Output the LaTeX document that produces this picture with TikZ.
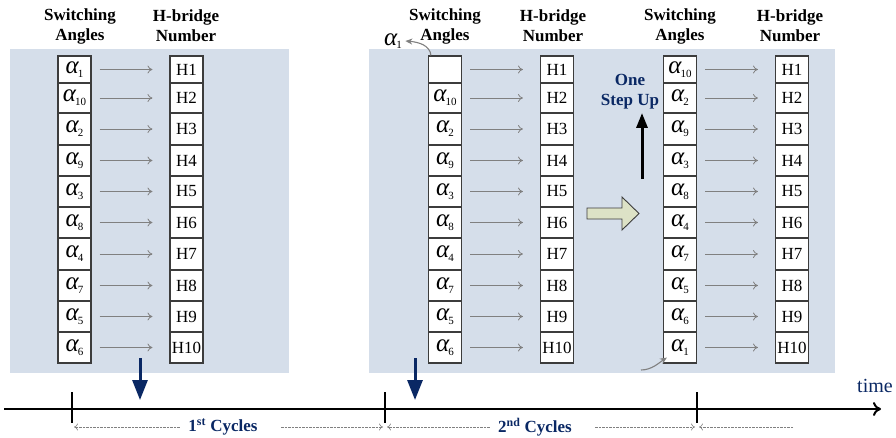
\documentclass[tikz,border=0pt]{standalone}
\usepackage{fontspec}
\setmainfont{Liberation Serif}
\usetikzlibrary{arrows.meta,calc}
\definecolor{panelbg}{RGB}{213,222,234}
\definecolor{navy}{RGB}{10,40,100}
\definecolor{cellline}{RGB}{60,60,60}
\definecolor{greenarrow}{RGB}{221,226,198}
\newcommand\al[1]{{\fontsize{25}{25}\selectfont\itshape α}\kern-1pt\raisebox{-0.5ex}{\fontsize{11}{11}\selectfont #1}}
\begin{document}
\begin{tikzpicture}[x=1pt,y=-1pt,
  cellbox/.style={draw=cellline,line width=1.1pt,fill=white,minimum width=33pt,inner sep=0pt,font=\fontsize{17}{17}\selectfont},
  maparrow/.style={draw=gray,line width=0.8pt,-{To[length=5pt,width=8pt]}},
  header/.style={align=center,font=\fontsize{17}{20}\selectfont\bfseries},
  navylbl/.style={text=navy,font=\fontsize{17}{20}\selectfont\bfseries,align=center},
  downarrow/.style={draw=navy,line width=3pt,-{Triangle[length=20pt,width=15pt]}},
  tick/.style={line width=2.6pt},
  cyclearrow/.style={draw=gray,line width=0.6pt,dash pattern=on 2.5pt off 1pt,-{To[length=4pt,width=7pt]}},
  curvearrow/.style={draw=gray,line width=1.1pt,-{Stealth[length=7pt,width=6pt]}}]
\useasboundingbox (0,0) rectangle (896,437);
% backgrounds
\fill[panelbg] (10,49) rectangle (289,373);
\fill[panelbg] (369,49) rectangle (835,373);
% headers
\node[header] (hs1) at (80,26) {Switching\\Angles};
\node[header] (hh1) at (186,26) {H-bridge\\Number};
\node[header] (hs2) at (445,26) {Switching\\Angles};
\node[header] (hh2) at (553,26) {H-bridge\\Number};
\node[header] (hs3) at (680,26) {Switching\\Angles};
\node[header] (hh3) at (790,26) {H-bridge\\Number};
% cells
\def\rowedges{56/83/1,83/113/2,113/145/3,145/176/4,176/207/5,207/238/6,238/270/7,270/301/8,301/332/9,332/363/10}
\foreach \t/\b/\i [count=\k] in \rowedges {
  \pgfmathsetmacro\cy{(\t+\b)/2}
  \pgfmathsetmacro\hh{\b-\t}
  \pgfmathtruncatemacro\ia{{1,10,2,9,3,8,4,7,5,6}[\k-1]}
  \pgfmathtruncatemacro\ib{{0,10,2,9,3,8,4,7,5,6}[\k-1]}
  \pgfmathtruncatemacro\ic{{10,2,9,3,8,4,7,5,6,1}[\k-1]}
  \node[cellbox,minimum height=\hh pt] (a1-\i) at (74.5,\cy) {\al{\ia}};
  \node[cellbox,minimum height=\hh pt] (h1-\i) at (186.5,\cy) {H\i};
  \ifnum\ib=0
    \node[cellbox,minimum height=\hh pt] (a2-\i) at (445,\cy) {};
  \else
    \node[cellbox,minimum height=\hh pt] (a2-\i) at (445,\cy) {\al{\ib}};
  \fi
  \node[cellbox,minimum height=\hh pt] (h2-\i) at (557,\cy) {H\i};
  \node[cellbox,minimum height=\hh pt] (a3-\i) at (680,\cy) {\al{\ic}};
  \node[cellbox,minimum height=\hh pt] (h3-\i) at (792,\cy) {H\i};
  \draw[maparrow,shorten <=8pt,shorten >=17pt] (a1-\i.east) -- (h1-\i.west);
  \draw[maparrow,shorten <=8pt,shorten >=17pt] (a2-\i.east) -- (h2-\i.west);
  \draw[maparrow,shorten <=8pt,shorten >=17pt] (a3-\i.east) -- (h3-\i.west);
}
% alpha1 leaving at top of panel 2
\node (out1) at (393,41) {\al{1}};
\draw[curvearrow] ($(a2-1.north west)+(3,0)$) .. controls (430,45) and (418,42) .. (out1.east);
% alpha1 entering at bottom of panel 3
\coordinate (in1) at (641,370);
\draw[curvearrow] (in1) .. controls (652,370) and (660,362) .. ($(a3-10.south west)+(4,-6)$);
% One Step Up
\node[navylbl] (osu) at (630,92) {One\\Step Up};
\coordinate (upstart) at (642,179);
\draw[line width=3pt,-{Triangle[length=15pt,width=11pt]}] (upstart) -- (osu.south -| upstart);
% big shift arrow
\draw[draw=cellline,line width=0.9pt,fill=greenarrow] (587,208) -- (622,208) -- (622,197) -- (639,213.5) -- (622,230) -- (622,219) -- (587,219) -- cycle;
% timeline
\coordinate (tl0) at (4,409);
\coordinate (tl1) at (881,409);
\draw[line width=2pt,-{To[length=8pt,width=14pt,line width=2pt]}] (tl0) -- (tl1);
\node[text=navy,font=\fontsize{20}{20}\selectfont] (timelbl) at (875,386) {time};
\coordinate (k1) at (72,409);
\coordinate (k2) at (385,409);
\coordinate (k3) at (697,409);
\foreach \c in {k1,k2,k3} \draw[tick] ($(\c)+(0,-17)$) -- ($(\c)+(0,14)$);
% down arrows
\coordinate (d1) at (140,400);
\coordinate (d2) at (415,400);
\draw[downarrow] (140,358) -- (d1);
\draw[downarrow] (415,358) -- (d2);
% cycle labels
\node[navylbl] (c1) at (223,427) {1\textsuperscript{st} Cycles};
\node[navylbl] (c2) at (535,427) {2\textsuperscript{nd} Cycles};
\coordinate (c1l) at (74,427);
\coordinate (c1r) at (383,427);
\coordinate (c2l) at (387,427);
\coordinate (c2r) at (695,427);
\coordinate (c3l) at (699,427);
\coordinate (c3s) at (793,427);
\draw[cyclearrow] ($(c1.west)+(-5,0)$) -- (c1l);
\draw[cyclearrow] ($(c1.east)+(20,0)$) -- (c1r);
\draw[cyclearrow] ($(c2.west)+(-5,0)$) -- (c2l);
\draw[cyclearrow] ($(c2.east)+(20,0)$) -- (c2r);
\draw[cyclearrow] (c3s) -- (c3l);
\end{tikzpicture}
\end{document}
